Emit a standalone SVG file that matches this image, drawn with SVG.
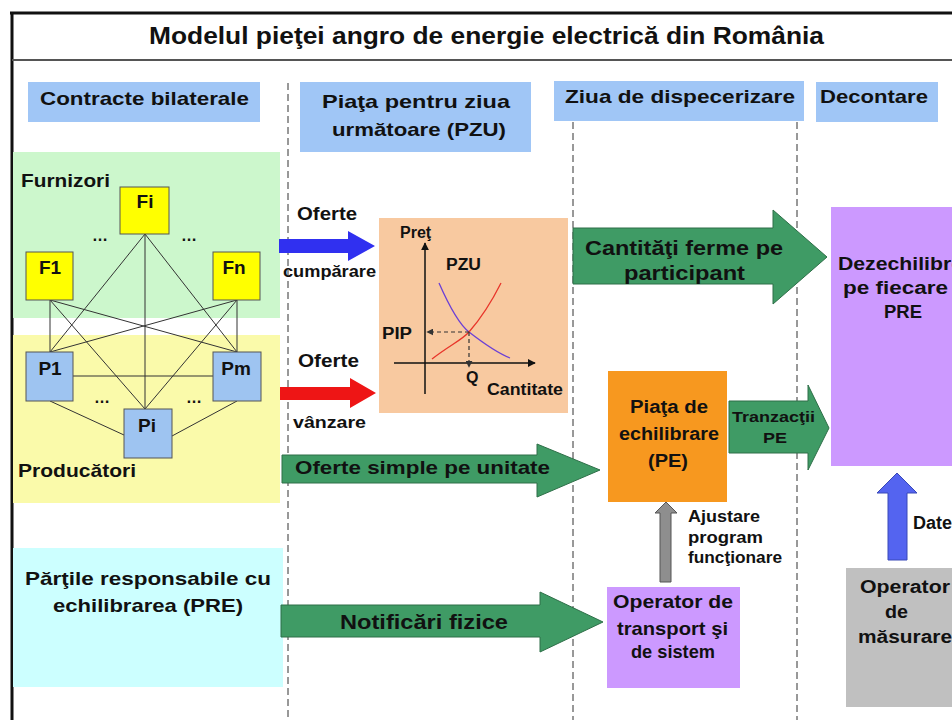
<svg xmlns="http://www.w3.org/2000/svg" width="952" height="720" viewBox="0 0 952 720">
<defs>
<style>
text { font-family: "Liberation Sans", Arial, sans-serif; font-weight: bold; fill: #111; }
.title { font-weight: bold; font-size: 24px; }
.hdr { fill: #A0C6F6; }
.dash { stroke: #333; stroke-width: 1; stroke-dasharray: 7 4; fill: none; }
.edge { stroke: #333; stroke-width: 1; fill: none; }
.fbox { fill: #FFFF00; stroke: #555; stroke-width: 1; }
.pbox { fill: #9EC4F1; stroke: #555; stroke-width: 1; }
.garrow { fill: #3F9B65; stroke: #2E6F48; stroke-width: 1; }
.purple { fill: #CC99FF; }
.ax { stroke: #111; stroke-width: 1.5; fill: none; }
.cdash { stroke: #333; stroke-width: 1.2; stroke-dasharray: 4 3; fill: none; }
.f19 { font-size: 19px; }
.f18 { font-size: 18px; }
.f16 { font-size: 16px; }
.f15 { font-size: 15px; }
</style>
<marker id="axh" viewBox="0 0 10 10" refX="9" refY="5" markerWidth="8" markerHeight="8" orient="auto" markerUnits="userSpaceOnUse">
<path d="M0,0 L10,5 L0,10 z" fill="#111"/>
</marker>
<marker id="dh" viewBox="0 0 10 10" refX="9" refY="5" markerWidth="7" markerHeight="7" orient="auto" markerUnits="userSpaceOnUse">
<path d="M0,0 L10,5 L0,10 z" fill="#333"/>
</marker>
</defs>

<rect x="0" y="0" width="952" height="720" fill="#fff"/>

<g id="frame">
<line x1="10" y1="13" x2="952" y2="13" stroke="#111" stroke-width="3"/>
<line x1="12" y1="12" x2="12" y2="720" stroke="#111" stroke-width="3"/>
<line x1="12" y1="60" x2="952" y2="60" stroke="#555" stroke-width="2"/>
<text class="title" x="149" y="44" textLength="675" lengthAdjust="spacingAndGlyphs">Modelul pieţei angro de energie electrică din România</text>
</g>

<g id="lanes">
<line class="dash" x1="288" y1="83" x2="288" y2="720"/>
<line class="dash" x1="573" y1="122" x2="573" y2="720"/>
<line class="dash" x1="797" y1="122" x2="797" y2="720"/>
</g>

<g id="hdr-contracte">
<rect class="hdr" x="28" y="82" width="232" height="40"/>
<text class="f19" x="40" y="105" textLength="209" lengthAdjust="spacingAndGlyphs">Contracte bilaterale</text>
</g>
<g id="hdr-pzu">
<rect class="hdr" x="300" y="82" width="231" height="70"/>
<text class="f19" x="322" y="108" textLength="188" lengthAdjust="spacingAndGlyphs">Piaţa pentru ziua</text>
<text class="f19" x="332" y="136" textLength="174" lengthAdjust="spacingAndGlyphs">următoare (PZU)</text>
</g>
<g id="hdr-dispecerizare">
<rect class="hdr" x="554" y="81" width="250" height="40"/>
<text class="f19" x="565" y="103" textLength="230" lengthAdjust="spacingAndGlyphs">Ziua de dispecerizare</text>
</g>
<g id="hdr-decontare">
<rect class="hdr" x="816" y="82" width="122" height="40"/>
<text class="f19" x="820" y="103" textLength="108" lengthAdjust="spacingAndGlyphs">Decontare</text>
</g>

<g id="area-furnizori">
<rect x="13" y="152" width="267" height="166" fill="#CCF7CC"/>
<text class="f19" x="21" y="187" textLength="89" lengthAdjust="spacingAndGlyphs">Furnizori</text>
</g>
<g id="area-producatori">
<rect x="13" y="335" width="267" height="168" fill="#FAFAAA"/>
<text class="f19" x="18" y="477" textLength="118" lengthAdjust="spacingAndGlyphs">Producători</text>
</g>
<g id="area-pre">
<rect x="13" y="548" width="270" height="139" fill="#CCFFFF"/>
<text class="f19" x="25" y="585" textLength="246" lengthAdjust="spacingAndGlyphs">Părţile responsabile cu</text>
<text class="f19" x="53" y="612" textLength="190" lengthAdjust="spacingAndGlyphs">echilibrarea (PRE)</text>
</g>

<g id="connectors">
<line class="edge" x1="50" y1="300" x2="50" y2="352"/>
<line class="edge" x1="50" y1="300" x2="145" y2="409"/>
<line class="edge" x1="50" y1="300" x2="237" y2="352"/>
<line class="edge" x1="145" y1="234" x2="50" y2="352"/>
<line class="edge" x1="145" y1="234" x2="145" y2="409"/>
<line class="edge" x1="145" y1="234" x2="237" y2="352"/>
<line class="edge" x1="237" y1="300" x2="50" y2="352"/>
<line class="edge" x1="237" y1="300" x2="145" y2="409"/>
<line class="edge" x1="237" y1="300" x2="237" y2="352"/>
<line class="edge" x1="73" y1="376" x2="213" y2="376"/>
<line class="edge" x1="50" y1="401" x2="124" y2="435"/>
<line class="edge" x1="237" y1="401" x2="172" y2="436"/>

<polygon points="279,239 348,239 348,231 375,246 348,261 348,253 279,253" fill="#3030F0"/>
<polygon points="280,387 350,387 350,378 376,393 350,408 350,400 280,400" fill="#EE1515"/>
<polygon class="garrow" points="573,228 773,228 773,210 827,257 773,304 773,284 573,284"/>
<polygon class="garrow" points="729,401 808,401 808,385 829,428 808,470 808,453 729,453"/>
<polygon class="garrow" points="282,455 537,455 537,444 600,470 537,497 537,483 282,483"/>
<polygon class="garrow" points="281,605 540,605 540,592 603,622 540,652 540,637 281,637"/>
<polygon points="660,582 660,513 655,513 666,502 677,513 671,513 671,582" fill="#8E8E8E" stroke="#555" stroke-width="1"/>
<polygon points="888,560 888,493 877,493 897,473 917,493 907,493 907,560" fill="#5464F0" stroke="#3848B8" stroke-width="1"/>

<text class="f18" x="297" y="220" textLength="60" lengthAdjust="spacingAndGlyphs">Oferte</text>
<text class="f16" x="283" y="277" textLength="93" lengthAdjust="spacingAndGlyphs">cumpărare</text>
<text class="f18" x="298" y="367" textLength="61" lengthAdjust="spacingAndGlyphs">Oferte</text>
<text class="f16" x="293" y="428" textLength="73" lengthAdjust="spacingAndGlyphs">vânzare</text>
<text x="585" y="255" font-size="21" textLength="198" lengthAdjust="spacingAndGlyphs">Cantităţi ferme pe</text>
<text x="624" y="280" font-size="21" textLength="121" lengthAdjust="spacingAndGlyphs">participant</text>
<text class="f15" x="732" y="422" textLength="83" lengthAdjust="spacingAndGlyphs">Tranzacţii</text>
<text class="f15" x="763" y="443" textLength="24" lengthAdjust="spacingAndGlyphs">PE</text>
<text class="f19" x="295" y="474" textLength="255" lengthAdjust="spacingAndGlyphs">Oferte simple pe unitate</text>
<text x="340" y="629" font-size="20" textLength="168" lengthAdjust="spacingAndGlyphs">Notificări fizice</text>
<text x="688" y="522" font-size="16" textLength="72" lengthAdjust="spacingAndGlyphs">Ajustare</text>
<text x="688" y="543" font-size="16" textLength="75" lengthAdjust="spacingAndGlyphs">program</text>
<text x="688" y="563" font-size="16" textLength="94" lengthAdjust="spacingAndGlyphs">funcţionare</text>
<text class="f18" x="913" y="529">Date</text>
</g>

<g id="node-Fi">
<rect class="fbox" x="120" y="187" width="49" height="47"/>
<text class="f19" x="145" y="208" text-anchor="middle">Fi</text>
</g>
<g id="node-F1">
<rect class="fbox" x="26" y="252" width="47" height="48"/>
<text class="f19" x="50" y="274" text-anchor="middle">F1</text>
</g>
<g id="node-Fn">
<rect class="fbox" x="213" y="252" width="47" height="48"/>
<text class="f19" x="234" y="274" text-anchor="middle">Fn</text>
</g>
<g id="node-P1">
<rect class="pbox" x="26" y="352" width="47" height="49"/>
<text class="f19" x="50" y="375" text-anchor="middle">P1</text>
</g>
<g id="node-Pm">
<rect class="pbox" x="213" y="352" width="48" height="49"/>
<text class="f19" x="236" y="375" text-anchor="middle">Pm</text>
</g>
<g id="node-Pi">
<rect class="pbox" x="124" y="409" width="48" height="49"/>
<text class="f19" x="147" y="432" text-anchor="middle">Pi</text>
</g>
<g id="dots">
<text x="100" y="241" font-size="16" font-weight="normal" text-anchor="middle">…</text>
<text x="189" y="241" font-size="16" font-weight="normal" text-anchor="middle">…</text>
<text x="102" y="403" font-size="16" font-weight="normal" text-anchor="middle">…</text>
<text x="194" y="403" font-size="16" font-weight="normal" text-anchor="middle">…</text>
</g>

<g id="node-chart">
<rect x="379" y="218" width="189" height="195" fill="#F8C9A0"/>
<line class="ax" x1="425" y1="394" x2="425" y2="243" marker-end="url(#axh)"/>
<line class="ax" x1="394" y1="363" x2="535" y2="363" marker-end="url(#axh)"/>
<path d="M439,283 C450,308 460,325 469,332 S495,352 510,358" stroke="#6B3FD6" stroke-width="1.3" fill="none"/>
<path d="M432,359 C450,345 462,340 469,332 S490,305 501,283" stroke="#E8352A" stroke-width="1.3" fill="none"/>
<line class="cdash" x1="469" y1="332" x2="427" y2="332" marker-end="url(#dh)"/>
<line class="cdash" x1="469" y1="332" x2="469" y2="367" marker-end="url(#dh)"/>
<text class="f16" x="400" y="238">Preţ</text>
<text class="f16" x="446" y="270" textLength="35" lengthAdjust="spacingAndGlyphs">PZU</text>
<text class="f16" x="382" y="339" textLength="30" lengthAdjust="spacingAndGlyphs">PIP</text>
<text class="f16" x="466" y="383">Q</text>
<text class="f16" x="487" y="395" textLength="76" lengthAdjust="spacingAndGlyphs">Cantitate</text>
</g>

<g id="node-dezechilibre">
<rect class="purple" x="831" y="207" width="130" height="259"/>
<text class="f18" x="838" y="270" textLength="125" lengthAdjust="spacingAndGlyphs">Dezechilibre</text>
<text class="f18" x="843" y="294" textLength="105" lengthAdjust="spacingAndGlyphs">pe fiecare</text>
<text class="f18" x="884" y="318" textLength="38" lengthAdjust="spacingAndGlyphs">PRE</text>
</g>

<g id="node-pe">
<rect x="608" y="371" width="119" height="131" fill="#F7981F"/>
<text class="f18" x="630" y="413" textLength="78" lengthAdjust="spacingAndGlyphs">Piaţa de</text>
<text class="f18" x="619" y="440" textLength="100" lengthAdjust="spacingAndGlyphs">echilibrare</text>
<text class="f18" x="648" y="467" textLength="40" lengthAdjust="spacingAndGlyphs">(PE)</text>
</g>

<g id="node-ots">
<rect class="purple" x="607" y="587" width="133" height="101"/>
<text class="f19" x="613" y="608" textLength="120" lengthAdjust="spacingAndGlyphs">Operator de</text>
<text class="f19" x="617" y="635" textLength="111" lengthAdjust="spacingAndGlyphs">transport şi</text>
<text class="f19" x="631" y="658" textLength="84" lengthAdjust="spacingAndGlyphs">de sistem</text>
</g>

<g id="node-om">
<rect x="846" y="568" width="120" height="139" fill="#C0C0C0"/>
<text class="f18" x="860" y="593" textLength="90" lengthAdjust="spacingAndGlyphs">Operator</text>
<text class="f18" x="885" y="618" textLength="23" lengthAdjust="spacingAndGlyphs">de</text>
<text class="f18" x="858" y="643" textLength="94" lengthAdjust="spacingAndGlyphs">măsurare</text>
</g>
</svg>
